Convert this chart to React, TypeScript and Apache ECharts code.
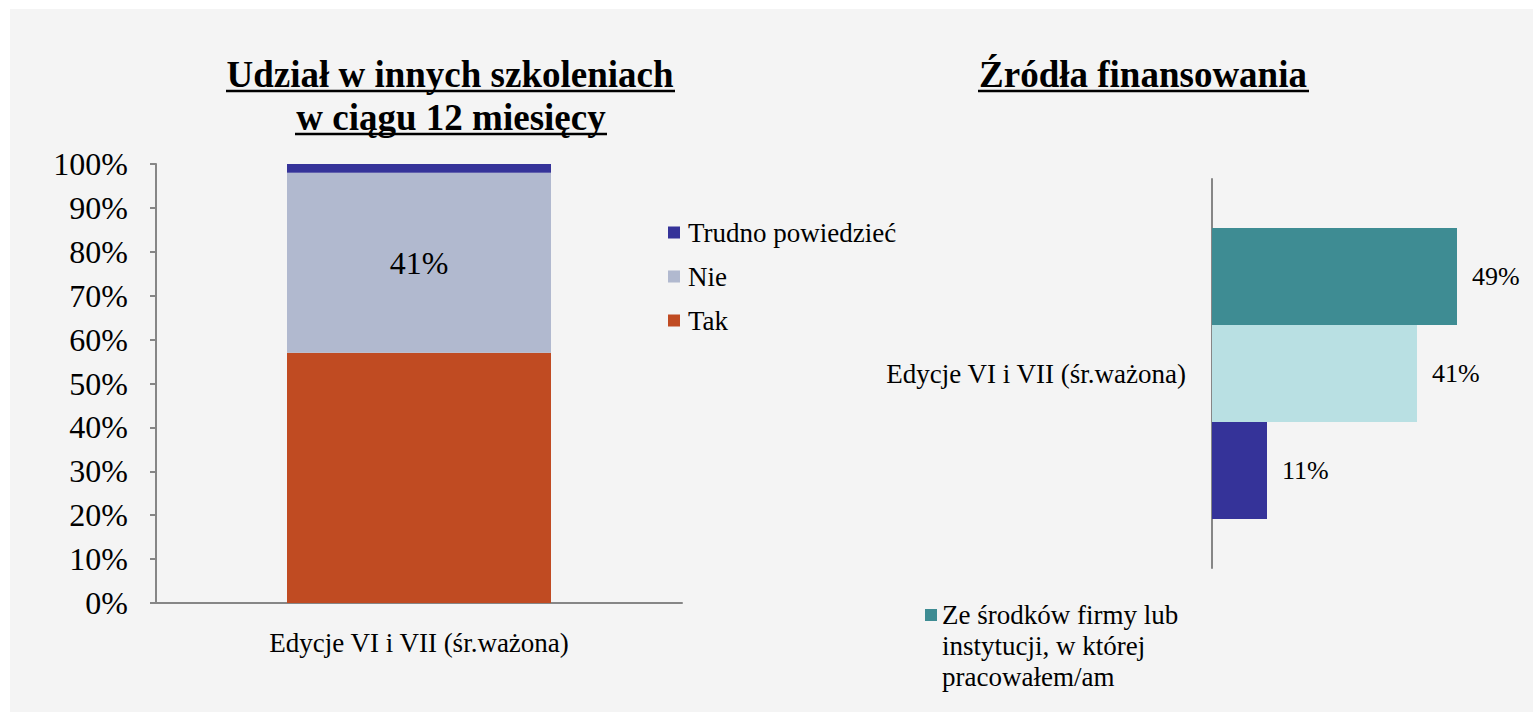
import React, { useEffect, useRef } from "react";
import * as echarts from "echarts";

const categories = ["Edycje VI i VII (śr.ważona)"];

// Left chart: Udział w innych szkoleniach w ciągu 12 miesięcy
const takValues = [57];
const nieValues = [41];
const trudnoValues = [2];
const participationLegend = ["Trudno powiedzieć", "Nie", "Tak"];

// Right chart: Źródła finansowania
const fundingNames = [
  "Ze środków firmy lub instytucji, w której pracowałem/am",
  "Ze środków własnych",
  "Inne źródła",
];
const firmaValues = [49];
const wlasneValues = [41];
const inneValues = [11];

const FONT = "Liberation Serif";
const AXIS_COLOR = "#868686";

export default function App() {
  const ref = useRef<HTMLDivElement>(null);
  useEffect(() => {
    if (!ref.current) return;
    const chart = echarts.init(ref.current, undefined, { renderer: "svg" });
    const titleStyle = {
      fontFamily: FONT,
      fontSize: 37,
      fontWeight: "bold",
      fill: "#000",
      textAlign: "center",
      textVerticalAlign: "middle",
      align: "center",
      verticalAlign: "middle",
    };
    chart.setOption({
      animation: false,
      backgroundColor: "#ffffff",
      textStyle: { fontFamily: FONT, color: "#000" },
      graphic: [
        { type: "rect", z: -10, shape: { x: 10, y: 9, width: 1523, height: 703 }, style: { fill: "#f4f4f4" } },
        { type: "text", x: 450, y: 74, style: { ...titleStyle, text: "Udział w innych szkoleniach" } },
        { type: "text", x: 451, y: 117, style: { ...titleStyle, text: "w ciągu 12 miesięcy" } },
        { type: "text", x: 1143, y: 74, style: { ...titleStyle, text: "Źródła finansowania" } },
        { type: "line", shape: { x1: 226, y1: 91, x2: 675, y2: 91 }, style: { stroke: "#000", lineWidth: 2.5 } },
        { type: "line", shape: { x1: 295, y1: 134, x2: 607, y2: 134 }, style: { stroke: "#000", lineWidth: 2.5 } },
        { type: "line", shape: { x1: 978, y1: 91, x2: 1309, y2: 91 }, style: { stroke: "#000", lineWidth: 2.5 } },
      ],
      legend: [
        {
          data: participationLegend,
          orient: "vertical",
          left: 668,
          top: 219,
          padding: 0,
          itemWidth: 12,
          itemHeight: 12,
          itemGap: 17,
          icon: "rect",
          textStyle: { fontFamily: FONT, fontSize: 27, color: "#000", padding: [0, 0, 0, 3] },
        },
        {
          data: [fundingNames[0]],
          orient: "vertical",
          left: 925,
          top: 599,
          padding: 0,
          itemWidth: 12,
          itemHeight: 74,
          icon: "path://M0,0H12V12H0Z M0,73H0.01V73.01H0Z",
          formatter: () => "Ze środków firmy lub\ninstytucji, w której\npracowałem/am",
          textStyle: { fontFamily: FONT, fontSize: 27, lineHeight: 31, color: "#000" },
        },
      ],
      grid: [
        { left: 156, top: 164, width: 526, height: 439 },
        { left: 1212, top: 179, width: 300, height: 389 },
      ],
      xAxis: [
        {
          type: "category",
          gridIndex: 0,
          data: categories,
          axisLine: { lineStyle: { color: AXIS_COLOR, width: 2 } },
          axisTick: { length: 6, lineStyle: { color: AXIS_COLOR, width: 2 } },
          axisLabel: { fontFamily: FONT, fontSize: 27, color: "#000", margin: 26 },
        },
        {
          type: "value",
          gridIndex: 1,
          min: 0,
          max: 60,
          show: false,
        },
      ],
      yAxis: [
        {
          type: "value",
          gridIndex: 0,
          min: 0,
          max: 100,
          interval: 10,
          splitLine: { show: false },
          axisLine: { show: true, lineStyle: { color: AXIS_COLOR, width: 2 } },
          axisTick: { show: true, length: 6, lineStyle: { color: AXIS_COLOR, width: 2 } },
          axisLabel: { formatter: "{value}%", fontFamily: FONT, fontSize: 32, color: "#000", margin: 28 },
        },
        {
          type: "category",
          gridIndex: 1,
          data: categories,
          axisLine: { lineStyle: { color: AXIS_COLOR, width: 2 } },
          axisTick: { length: 7, lineStyle: { color: AXIS_COLOR, width: 2 } },
          axisLabel: { fontFamily: FONT, fontSize: 27, color: "#000", margin: 26 },
        },
      ],
      series: [
        {
          name: "Tak",
          type: "bar",
          stack: "p",
          xAxisIndex: 0,
          yAxisIndex: 0,
          barWidth: 264,
          data: takValues,
          itemStyle: { color: "#c04b22" },
        },
        {
          name: "Nie",
          type: "bar",
          stack: "p",
          xAxisIndex: 0,
          yAxisIndex: 0,
          barWidth: 264,
          data: nieValues,
          itemStyle: { color: "#b1b9cf" },
          label: { show: true, position: "inside", formatter: "{c}%", fontFamily: FONT, fontSize: 32, color: "#000" },
        },
        {
          name: "Trudno powiedzieć",
          type: "bar",
          stack: "p",
          xAxisIndex: 0,
          yAxisIndex: 0,
          barWidth: 264,
          data: trudnoValues,
          itemStyle: { color: "#353399" },
        },
        {
          name: fundingNames[0],
          type: "bar",
          xAxisIndex: 1,
          yAxisIndex: 1,
          barWidth: 97,
          barGap: "0%",
          data: firmaValues,
          itemStyle: { color: "#3e8c93" },
          label: { show: true, position: "right", distance: 15, formatter: "{c}%", fontFamily: FONT, fontSize: 26, color: "#000" },
        },
        {
          name: fundingNames[1],
          type: "bar",
          xAxisIndex: 1,
          yAxisIndex: 1,
          barWidth: 97,
          barGap: "0%",
          data: wlasneValues,
          itemStyle: { color: "#b9e0e3" },
          label: { show: true, position: "right", distance: 15, formatter: "{c}%", fontFamily: FONT, fontSize: 26, color: "#000" },
        },
        {
          name: fundingNames[2],
          type: "bar",
          xAxisIndex: 1,
          yAxisIndex: 1,
          barWidth: 97,
          barGap: "0%",
          data: inneValues,
          itemStyle: { color: "#353399" },
          label: { show: true, position: "right", distance: 15, formatter: "{c}%", fontFamily: FONT, fontSize: 26, color: "#000" },
        },
      ],
    });
    return () => chart.dispose();
  }, []);
  return (
    <div
      ref={ref}
      style={{ position: "fixed", left: 0, top: 0, width: 1533, height: 712 }}
    />
  );
}
